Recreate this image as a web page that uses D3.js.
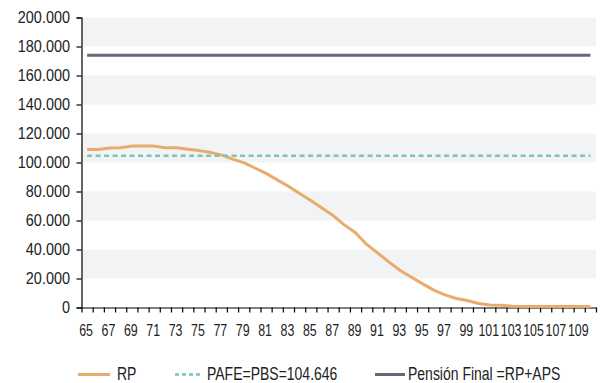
<!DOCTYPE html>
<html>
<head>
<meta charset="utf-8">
<script src="https://cdn.jsdelivr.net/npm/d3@7"></script>
<style>
  html, body { margin: 0; padding: 0; background: #fff; }
  svg { display: block; }
  text { font-family: "Liberation Sans", Arial, sans-serif; fill: #222; }
</style>
</head>
<body>
<svg id="chart" width="601" height="383"></svg>
<script>
// Ages on the horizontal axis
const ages = d3.range(65, 111);

// Renta programada (RP) per age
const rp = [
  109000, 109000, 110000, 110200, 111300, 111400, 111300, 110200, 110100, 109200,
  108200, 107000, 105200, 102300, 99900, 96200, 92500, 88000, 83600, 78600,
  73800, 68600, 63400, 57000, 51500, 43500, 37500, 31300, 25500, 20800,
  16300, 12000, 8700, 6200, 4800, 2800, 1800, 1500, 900, 700,
  700, 700, 700, 700, 700, 700
];

// Pensión básica solidaria reference value
const pafe = 104646;

// Final pension (RP + APS)
const pensionFinal = 174000;

// Y-axis ticks
const yTicks = d3.range(0, 200001, 20000);

// Labelled ages on the x axis
const xLabels = d3.range(65, 110, 2);

const legendItems = [
  { name: "RP", color: "#e9ab6c", dash: null },
  { name: "PAFE=PBS=104.646", color: "#7ec5b1", dash: "4,3" },
  { name: "Pensión Final =RP+APS", color: "#676779", dash: null }
];

const svg = d3.select("#chart");
const plotLeft = 81.5, plotRight = 596, plotTop = 17.5, plotBottom = 307.5;

const x = d3.scaleLinear().domain([64.5, 110.5]).range([plotLeft, plotRight]);
const y = d3.scaleLinear().domain([0, 200000]).range([plotBottom, plotTop]);

// Alternating shaded bands
const bands = yTicks.slice(0, -1).filter((d, i) => i % 2 === 1);
svg.append("g").selectAll("rect").data(bands).join("rect")
  .attr("x", plotLeft).attr("width", plotRight - plotLeft)
  .attr("y", d => y(d + 20000)).attr("height", d => y(d) - y(d + 20000))
  .attr("fill", "#f2f3f5");

// Y axis (condensed labels)
const yAxis = svg.append("g").attr("transform", `translate(${plotLeft},0)`)
  .call(d3.axisLeft(y).tickValues(yTicks).tickSize(5)
    .tickFormat(d => d3.format(",")(d).replace(/,/g, ".")));
yAxis.selectAll("text").style("font-size", "17px").attr("fill", "#222")
  .attr("x", 0).attr("transform", "translate(-11.5,0) scale(0.85,1)");
yAxis.selectAll("line, path").attr("stroke", "#000").attr("stroke-width", 1.2);

// X axis: tick marks on category boundaries
const xAxis = svg.append("g").attr("transform", `translate(0,${plotBottom})`)
  .call(d3.axisBottom(x).tickValues(d3.range(64.5, 111, 1)).tickSize(5).tickSizeOuter(0).tickFormat(""));
xAxis.selectAll("line, path").attr("stroke", "#000").attr("stroke-width", 1.2);

// X axis labels at every second age
const xLab = svg.append("g").attr("transform", `translate(0,${plotBottom})`)
  .call(d3.axisBottom(x).tickValues(xLabels).tickSize(0).tickFormat(d3.format("d")));
xLab.select(".domain").remove();
xLab.selectAll("text").style("font-size", "16.5px").attr("fill", "#222")
  .attr("y", 0).attr("dy", null)
  .attr("transform", "translate(-1.5,28.5) scale(0.75,1)");

// Lines
const line = d3.line().x((d, i) => x(ages[i])).y(d => y(d));

svg.append("path").datum(ages.map(() => pensionFinal))
  .attr("d", line).attr("fill", "none")
  .attr("stroke", legendItems[2].color).attr("stroke-width", 3);

svg.append("path").datum(rp)
  .attr("d", line).attr("fill", "none")
  .attr("stroke", legendItems[0].color).attr("stroke-width", 3)
  .attr("stroke-linejoin", "round");

svg.append("path").datum(ages.map(() => pafe))
  .attr("d", line).attr("fill", "none")
  .attr("stroke", legendItems[1].color).attr("stroke-width", 2.5)
  .attr("stroke-dasharray", "5,3.5");

// Legend
const legendX = [78, 175, 375];
const lineLen = [32, 27, 30];
const textX = [39, 32, 33];
const lg = svg.append("g").selectAll("g").data(legendItems).join("g")
  .attr("transform", (d, i) => `translate(${legendX[i]},374.5)`);
lg.append("line").attr("x1", 0).attr("x2", (d, i) => lineLen[i])
  .attr("stroke", d => d.color).attr("stroke-width", d => d.dash ? 2.5 : 3)
  .attr("stroke-dasharray", d => d.dash);
lg.append("text")
  .attr("transform", (d, i) => `translate(${textX[i]},5.5) scale(0.8,1)`)
  .style("font-size", "17.5px").text(d => d.name);
</script>
</body>
</html>
